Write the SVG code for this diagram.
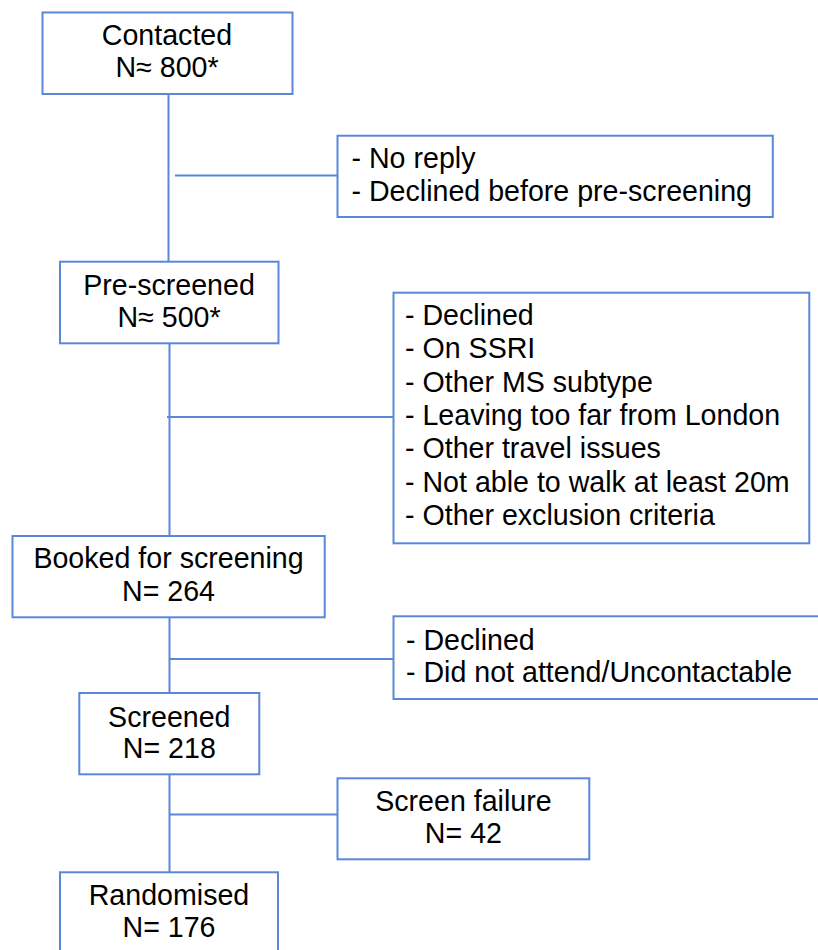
<svg xmlns="http://www.w3.org/2000/svg" width="818" height="950" viewBox="0 0 818 950">
<style>
.box{fill:#ffffff;stroke:#5B87DA;stroke-width:2}
.ln{stroke:#5B87DA;stroke-width:2;fill:none}
text{font-family:"Liberation Sans",Arial,Helvetica,sans-serif;font-size:28.6px;fill:#000000}
.c{text-anchor:middle}
</style>
<rect width="818" height="950" fill="#ffffff"/>
<g id="connectors">
<line class="ln" x1="168.5" y1="94" x2="168.5" y2="262"/>
<line class="ln" x1="175" y1="175.5" x2="337.5" y2="175.5"/>
<line class="ln" x1="169.5" y1="343" x2="169.5" y2="536"/>
<line class="ln" x1="167" y1="417" x2="393.5" y2="417"/>
<line class="ln" x1="169.5" y1="617" x2="169.5" y2="693"/>
<line class="ln" x1="169.5" y1="659" x2="393.5" y2="659"/>
<line class="ln" x1="169.5" y1="774" x2="169.5" y2="872"/>
<line class="ln" x1="169" y1="814.5" x2="337.5" y2="814.5"/>
</g>
<g id="contacted">
<rect class="box" x="42.5" y="12.5" width="250" height="81.5"/>
<text class="c" x="167" y="45">Contacted</text>
<text class="c" x="167" y="77.3">N≈ 800*</text>
</g>
<g id="excluded1">
<rect class="box" x="337.5" y="135.7" width="435.3" height="81.3"/>
<text x="351.5" y="167.7">- No reply</text>
<text x="351.5" y="201">- Declined before pre-screening</text>
</g>
<g id="prescreened">
<rect class="box" x="60" y="261.7" width="218.5" height="81.6"/>
<text class="c" x="169" y="295">Pre-screened</text>
<text class="c" x="169" y="326.7">N≈ 500*</text>
</g>
<g id="excluded2">
<rect class="box" x="393.5" y="292.7" width="415.8" height="250.6"/>
<text x="405" y="325">- Declined</text>
<text x="405" y="358.3">- On SSRI</text>
<text x="405" y="391.7">- Other MS subtype</text>
<text x="405" y="425">- Leaving too far from London</text>
<text x="405" y="458.3">- Other travel issues</text>
<text x="405" y="491.7">- Not able to walk at least 20m</text>
<text x="405" y="525">- Other exclusion criteria</text>
</g>
<g id="booked">
<rect class="box" x="12.5" y="536" width="312.2" height="81.3"/>
<text class="c" x="168.5" y="568.3">Booked for screening</text>
<text class="c" x="168.5" y="600.7">N= 264</text>
</g>
<g id="excluded3">
<rect class="box" x="393.5" y="616.3" width="440" height="82.7"/>
<text x="406" y="650">- Declined</text>
<text x="406" y="681.7">- Did not attend/Uncontactable</text>
</g>
<g id="screened">
<rect class="box" x="79.3" y="693" width="180" height="81.3"/>
<text class="c" x="169.3" y="726.7">Screened</text>
<text class="c" x="169.3" y="758.3">N= 218</text>
</g>
<g id="screenfailure">
<rect class="box" x="337.5" y="778.3" width="251.8" height="81"/>
<text class="c" x="463.4" y="810.7">Screen failure</text>
<text class="c" x="463.4" y="842.7">N= 42</text>
</g>
<g id="randomised">
<rect class="box" x="60" y="872.3" width="218" height="100"/>
<text class="c" x="169" y="905">Randomised</text>
<text class="c" x="169" y="937.3">N= 176</text>
</g>
</svg>
